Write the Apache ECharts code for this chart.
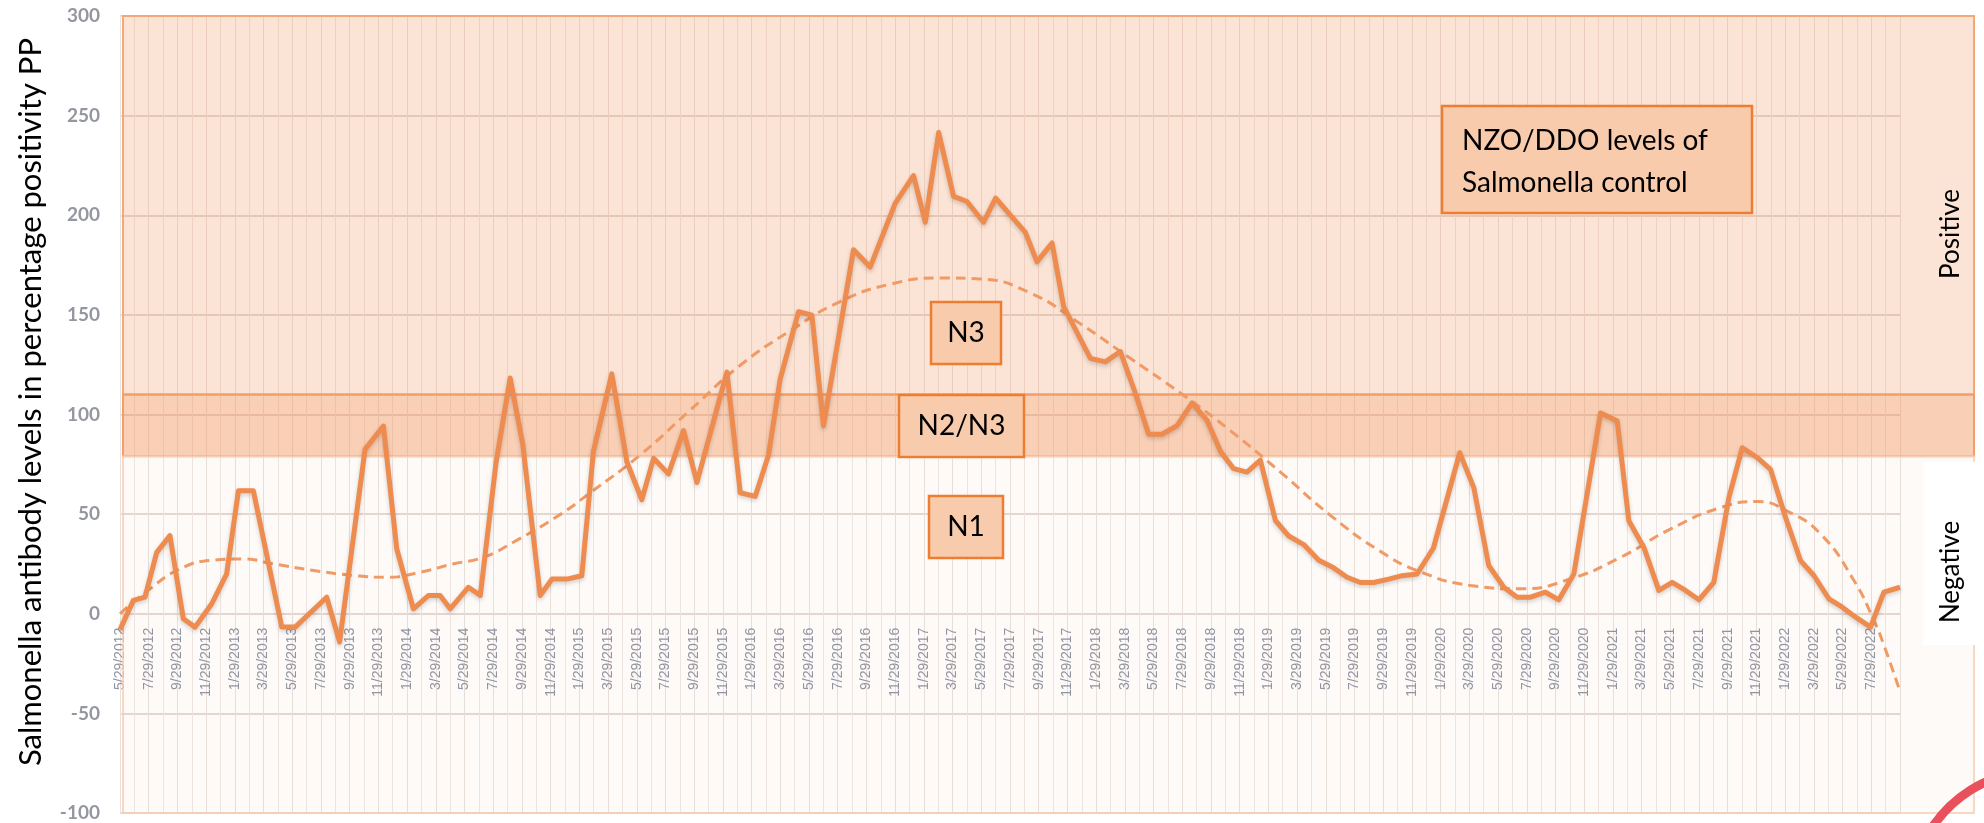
<!DOCTYPE html>
<html lang="en">
<head>
<meta charset="UTF-8">
<title>Salmonella antibody levels</title>
<script src="https://cdn.jsdelivr.net/npm/echarts@6/dist/echarts.min.js"></script>
<style>
  html, body { margin: 0; padding: 0; background: #fff; }
  #main { width: 1984px; height: 823px; }
</style>
</head>
<body>
<div id="main"></div>
<script>
// measured points: position in months after 5/29/2012, and PP value
var pointMonth = [0, 0.93, 1.74, 2.56, 3.48, 4.41, 5.23, 6.39, 7.43, 8.25, 9.29, 11.27, 12.2, 14.4, 15.3, 17.07, 18.35,
    19.28, 20.44, 21.5, 22.3, 23.0, 24.27, 25.1, 26.2, 27.18, 28.06, 29.27, 30.1,
    31.13, 32.17, 32.98, 34.26, 35.31, 36.35, 37.17, 38.21, 39.26, 40.19, 42.28, 43.21, 44.25, 45.18, 45.99,
    47.27, 48.2, 49.01, 51.1, 52.26, 54.0, 55.28, 56.1, 57.03, 58.07, 59.0, 60.16, 61.0,
    63.07, 63.88, 64.93, 65.74, 67.6, 68.64, 69.69, 70.73, 71.66, 72.59, 73.64, 74.68, 75.73, 76.66,
    77.58, 78.51, 79.44, 80.49, 81.42, 82.46, 83.51, 84.44, 85.48, 86.41, 87.34, 88.38, 89.32, 90.36, 91.5,
    93.33, 94.31, 95.35, 96.4, 97.33, 98.26, 99.3, 100.23, 101.28, 103.14, 104.3, 105.11, 106.16, 107.2,
    108.13, 109.06, 109.99, 111.03, 112.08, 113.01, 114.06, 114.98, 116.03, 117.07, 118.0, 119.05,
    119.98, 120.91, 121.95, 122.88, 124];
var pointPP = [-8, 6.7, 8.3, 30.8, 39.2, -2.5, -6.7, 5, 20, 61.7, 61.7, -6.7, -6.7, 8.3, -14.2, 82.5, 94.2,
    32.5, 2.5, 9.2, 9.2, 2.5, 13.3, 9.2, 76, 118.3, 85, 9.2, 17.4,
    17.4, 19.1, 81.5, 120.4, 76.3, 57.2, 78, 70.2, 91.9, 65.9, 121.3, 60.7, 58.9, 79.7, 117.8,
    151.6, 149.8, 94.4, 182.7, 174, 206, 219.9, 196.5, 241.5, 209.5, 206.9, 196.5, 208.6,
    191.4, 176.6, 186.1, 154.1, 128.2, 126.4, 131.6, 110.8, 90.1, 90.1, 94.4, 105.7, 97, 81.5,
    72.8, 71.1, 77.1, 46.8, 39, 34.7, 26.9, 23.5, 18.3, 15.7, 15.7, 17.4, 19.1, 20, 33,
    80.8, 63.3, 24.2, 13.3, 8.3, 8.3, 10.8, 7, 20, 100.8, 96.7, 46.7, 33.3, 11.7,
    15.8, 11.7, 7, 15.8, 58.3, 83.3, 78.3, 72.5, 48.3, 26.7, 19.2, 7.5,
    3.3, -1.7, -6.7, 10.8, 13.3];

// dashed trend line
var trendMonth = [0, 2.09, 4.18, 6.27, 8.6, 10.7, 13.5, 16.3, 18.6, 20.9, 23.2, 25.3, 27.6, 30.7, 32.75, 36.24,
    39.72, 43.21, 46.69, 50.17, 53.66, 57.14, 59.9, 63.41, 66.9, 70.38, 73.87, 77.35, 80.84, 84.32, 87.8,
    90.59, 94.08, 97.56, 101.05, 104.53, 108.01, 111.5, 114.05, 116.1, 118.47, 120.79, 122.18, 122.88, 124];
var trendPP = [0, 12.5, 22.5, 26.7, 27.5, 25, 21.7, 19.2, 18.3, 20.8, 25, 28.3, 36.7, 50, 60.7, 79.7,
    102.2, 124.7, 142, 156.7, 165.4, 168.5, 168, 161, 145.5, 128.2, 110.8, 91.9, 71.1, 49.4, 31.3,
    21, 14.2, 12.5, 17.5, 28.3, 42.5, 53.3, 56.3, 51.7, 40, 16.7, -3.3, -15.8, -39];

// axis labels every second month
var monthLabels = ['5/29/2012', '7/29/2012', '9/29/2012', '11/29/2012',
    '1/29/2013', '3/29/2013', '5/29/2013', '7/29/2013', '9/29/2013', '11/29/2013',
    '1/29/2014', '3/29/2014', '5/29/2014', '7/29/2014', '9/29/2014', '11/29/2014',
    '1/29/2015', '3/29/2015', '5/29/2015', '7/29/2015', '9/29/2015', '11/29/2015',
    '1/29/2016', '3/29/2016', '5/29/2016', '7/29/2016', '9/29/2016', '11/29/2016',
    '1/29/2017', '3/29/2017', '5/29/2017', '7/29/2017', '9/29/2017', '11/29/2017',
    '1/29/2018', '3/29/2018', '5/29/2018', '7/29/2018', '9/29/2018', '11/29/2018',
    '1/29/2019', '3/29/2019', '5/29/2019', '7/29/2019', '9/29/2019', '11/29/2019',
    '1/29/2020', '3/29/2020', '5/29/2020', '7/29/2020', '9/29/2020', '11/29/2020',
    '1/29/2021', '3/29/2021', '5/29/2021', '7/29/2021', '9/29/2021', '11/29/2021',
    '1/29/2022', '3/29/2022', '5/29/2022', '7/29/2022'];

// NZO/DDO levels: N1 below 79, N2/N3 between, N3 above 110
var levelLow = 79;
var levelHigh = 110;

function pairs(xs, ys) {
    var out = [];
    for (var i = 0; i < xs.length; i++) out.push([xs[i], ys[i]]);
    return out;
}

var chart = echarts.init(document.getElementById('main'));

// plot runs from y=16 (300) to y=813 (-100); the zero line is at 613.75
var plotTop = 16, plotBottom = 10;
var zeroFromBottom = 823 - (16 + (300 / 400) * 797);

var option = {
    backgroundColor: '#ffffff',
    animation: false,
    textStyle: { fontFamily: 'Lato' },
    grid: [
        { left: 120, right: 84, top: plotTop, bottom: plotBottom, outerBoundsMode: 'none' },
        // second grid ends on the zero line, it only carries the date labels
        { left: 120, right: 84, top: plotTop, bottom: zeroFromBottom, outerBoundsMode: 'none' }
    ],
    xAxis: [
        {
            type: 'value',
            gridIndex: 0,
            min: 0,
            max: 124,
            interval: 2,
            axisLine: { show: false },
            axisTick: { show: false },
            axisLabel: { show: false },
            splitLine: { show: true, lineStyle: { color: '#E9E2DE', width: 1 } },
            minorTick: { show: false, splitNumber: 2 },
            minorSplitLine: { show: true, lineStyle: { color: '#EEE8E5', width: 1 } }
        },
        {
            type: 'value',
            gridIndex: 1,
            min: 0,
            max: 124,
            interval: 2,
            axisLine: { show: false },
            axisTick: { show: false },
            splitLine: { show: false },
            axisLabel: {
                rotate: 90,
                margin: 14,
                fontSize: 14,
                fontFamily: 'Liberation Sans',
                color: '#8E95A6',
                formatter: function (v) {
                    return monthLabels[Math.round(v / 2)] || '';
                }
            }
        }
    ],
    yAxis: [
        {
            type: 'value',
            gridIndex: 0,
            min: -100,
            max: 300,
            interval: 50,
            axisLine: { show: false, onZero: false },
            axisTick: { show: false },
            axisLabel: { margin: 20, fontSize: 19, fontWeight: 'bold', color: '#9496A0', fontFamily: 'Lato' },
            splitLine: { lineStyle: { color: '#E4DAD4', width: 2 } }
        },
        {
            type: 'value',
            gridIndex: 1,
            min: 0,
            max: 1,
            show: false
        }
    ],
    series: [
        {
            name: 'trend',
            type: 'line',
            data: pairs(trendMonth, trendPP),
            smooth: true,
            symbol: 'none',
            z: 4,
            lineStyle: { color: '#F09A66', width: 3, type: [10, 6] }
        },
        {
            name: 'PP',
            type: 'line',
            data: pairs(pointMonth, pointPP),
            symbol: 'none',
            z: 5,
            lineStyle: {
                color: '#EE8B4F',
                width: 5,
                join: 'round',
                shadowBlur: 4,
                shadowColor: 'rgba(0,0,0,0.18)',
                shadowOffsetY: 2
            }
        }
    ]
};
chart.setOption(option);

// bands and notes, placed from the y scale
function yPx(v) { return chart.convertToPixel({ yAxisIndex: 0 }, v); }

var bandLeft = 123, bandRight = 1974;
var yTop = yPx(300), yHigh = yPx(levelHigh), yLow = yPx(levelLow), yBottom = yPx(-100);

function band(y0, y1, fill, stroke, lw) {
    return {
        type: 'rect', z: 1, silent: true,
        shape: { x: bandLeft, y: y0, width: bandRight - bandLeft, height: y1 - y0 },
        style: { fill: fill, stroke: stroke, lineWidth: lw }
    };
}

function noteBox(x, y, w, h, text) {
    return [
        {
            type: 'rect', z: 6,
            shape: { x: x, y: y, width: w, height: h },
            style: { fill: '#F8CBAD', stroke: '#ED7D31', lineWidth: 2.5 }
        },
        {
            type: 'text', z: 7, x: x + w / 2, y: y + h / 2,
            style: { text: text, fill: '#000', font: '28px Lato', align: 'center', verticalAlign: 'middle' }
        }
    ];
}

var graphics = [
    band(yTop, yHigh, 'rgba(240,140,80,0.24)', '#F4A878', 2),
    band(yHigh, yLow, 'rgba(240,140,80,0.42)', '#F29E6A', 2),
    band(yLow, yBottom, 'rgba(240,140,80,0.04)', '#F8CDB0', 1.5),
    {
        type: 'rect', z: 2,
        shape: { x: 1923, y: 462, width: 53, height: 183 },
        style: { fill: '#ffffff' }
    },
    {
        type: 'text', z: 7, x: 1951, y: 234, rotation: Math.PI / 2,
        style: { text: 'Positive', fill: '#000', font: '26px Lato', align: 'center', verticalAlign: 'middle' }
    },
    {
        type: 'text', z: 7, x: 1951, y: 572, rotation: Math.PI / 2,
        style: { text: 'Negative', fill: '#000', font: '26px Lato', align: 'center', verticalAlign: 'middle' }
    },
    {
        // y axis title
        type: 'text', z: 7, x: 31, y: 402, rotation: Math.PI / 2,
        style: {
            text: 'Salmonella antibody levels in percentage positivity PP', fill: '#000',
            font: '31px Lato', align: 'center', verticalAlign: 'middle'
        }
    },
    {
        type: 'rect', z: 6,
        shape: { x: 1442, y: 106, width: 310, height: 107 },
        style: { fill: '#F8CBAD', stroke: '#ED7D31', lineWidth: 2.5 }
    },
    {
        type: 'text', z: 7, x: 1462, y: 162,
        style: {
            text: 'NZO/DDO levels of\nSalmonella control', fill: '#000', font: '28px Lato',
            lineHeight: 42, align: 'left', verticalAlign: 'middle'
        }
    },
    {
        type: 'arc', z: 7,
        shape: { cx: 2040, cy: 900, r: 130, startAngle: 3.7, endAngle: 4.6 },
        style: { stroke: '#E8505B', lineWidth: 9, fill: null }
    }
];
graphics = graphics.concat(noteBox(931, 302, 70, 62, 'N3'));
graphics = graphics.concat(noteBox(899, 395, 125, 62, 'N2/N3'));
graphics = graphics.concat(noteBox(929, 496, 74, 62, 'N1'));

chart.setOption({ graphic: graphics });
</script>
</body>
</html>
